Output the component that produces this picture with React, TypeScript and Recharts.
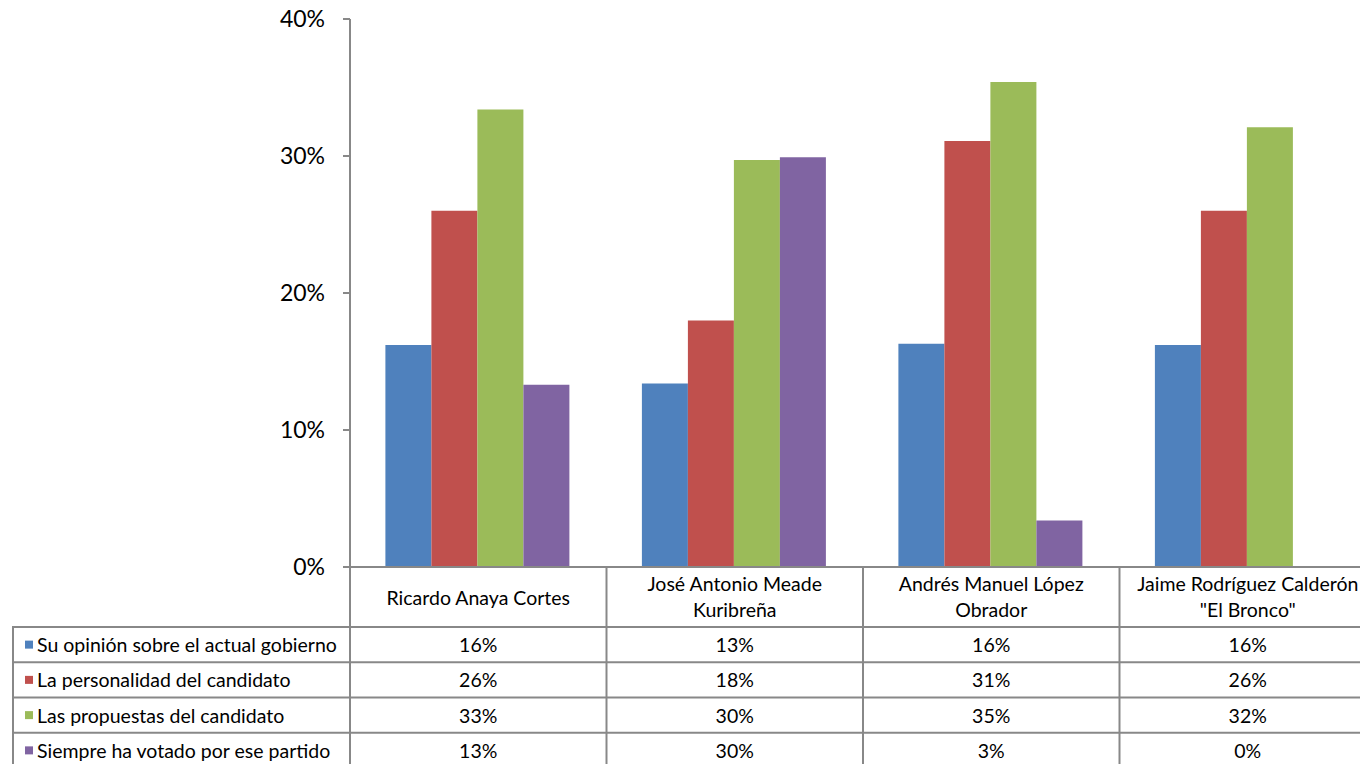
import { BarChart, Bar, XAxis, YAxis } from 'recharts'

const candidates = [
  'Ricardo Anaya Cortes',
  'José Antonio Meade Kuribreña',
  'Andrés Manuel López Obrador',
  'Jaime Rodríguez Calderón "El Bronco"',
]
const candidateLines = [
  ['Ricardo Anaya Cortes'],
  ['José Antonio Meade', 'Kuribreña'],
  ['Andrés Manuel López', 'Obrador'],
  ['Jaime Rodríguez Calderón', '"El Bronco"'],
]
const seriesNames = [
  'Su opinión sobre el actual gobierno',
  'La personalidad del candidato',
  'Las propuestas del candidato',
  'Siempre ha votado por ese partido',
]
const seriesColors = ['#4F81BD', '#C0504D', '#9BBB59', '#8064A2']

const opinion = [16.2, 13.4, 16.3, 16.2]
const personalidad = [26.0, 18.0, 31.1, 26.0]
const propuestas = [33.4, 29.7, 35.4, 32.1]
const partido = [13.3, 29.9, 3.4, 0]
const yTicks = [0, 10, 20, 30, 40]

const seriesValues = [opinion, personalidad, propuestas, partido]
const data = candidates.map((name, i) => ({
  name,
  s0: opinion[i],
  s1: personalidad[i],
  s2: propuestas[i],
  s3: partido[i],
}))

// layout
const FONT = 'Lato, "Open Sans", sans-serif'
const LINE = '#888888'
const AXIS_X = 350
const CHART_W = 1376
const TOP = 19
const PLOT_BOTTOM = 567
const XAXIS_H = 201
const CHART_H = PLOT_BOTTOM + XAXIS_H
const BAND = (CHART_W - AXIS_X) / candidates.length
const LABEL_H = 60
const ROW_H = (XAXIS_H - LABEL_H) / seriesNames.length
const TEXT_SIZE = 19.5

const TableColumn = ({ x, y, payload }: any) => {
  const i = payload.index
  const left = x - BAND / 2
  const right = x + BAND / 2
  const lines = candidateLines[i]
  const last = i === candidates.length - 1
  return (
    <g fontFamily={FONT}>
      <line x1={left} y1={y} x2={left} y2={y + XAXIS_H} stroke={LINE} strokeWidth={2} />
      {last && <line x1={right} y1={y} x2={right} y2={y + XAXIS_H} stroke={LINE} strokeWidth={2} />}
      {seriesNames.map((_, k) => (
        <line
          key={'h' + k}
          x1={left}
          x2={right}
          y1={y + LABEL_H + ROW_H * k}
          y2={y + LABEL_H + ROW_H * k}
          stroke={LINE}
          strokeWidth={2}
        />
      ))}
      <line x1={left} x2={right} y1={y + XAXIS_H} y2={y + XAXIS_H} stroke={LINE} strokeWidth={2} />
      {lines.map((t, k) => (
        <text
          key={'l' + k}
          x={x}
          y={lines.length === 1 ? y + 30 : y + 16 + k * 26}
          textAnchor="middle"
          dominantBaseline="central"
          fontSize={TEXT_SIZE}
          fill="#000"
        >
          {t}
        </text>
      ))}
      {seriesValues.map((vals, k) => (
        <text
          key={'v' + k}
          x={x}
          y={y + LABEL_H + ROW_H * (k + 0.5)}
          textAnchor="middle"
          dominantBaseline="central"
          fontSize={TEXT_SIZE}
          fill="#000"
        >
          {Math.round(vals[i])}%
        </text>
      ))}
    </g>
  )
}

function LegendColumn() {
  const top = PLOT_BOTTOM + LABEL_H
  return (
    <svg
      width={AXIS_X + 2}
      height={CHART_H}
      style={{ position: 'absolute', left: 0, top: 0, fontFamily: FONT }}
    >
      <line x1={13} y1={top} x2={13} y2={CHART_H} stroke={LINE} strokeWidth={2} />
      {seriesNames.map((n, k) => (
        <g key={n}>
          <line x1={12} x2={AXIS_X} y1={top + ROW_H * k} y2={top + ROW_H * k} stroke={LINE} strokeWidth={2} />
          <rect x={25} y={top + ROW_H * (k + 0.5) - 4} width={8} height={8} fill={seriesColors[k]} />
          <text x={37} y={top + ROW_H * (k + 0.5)} dominantBaseline="central" fontSize={TEXT_SIZE} fill="#000">
            {n}
          </text>
        </g>
      ))}
    </svg>
  )
}

export default function App() {
  return (
    <div
      style={{
        position: 'fixed',
        left: 0,
        top: 0,
        width: 1360,
        height: 764,
        overflow: 'hidden',
        background: '#fff',
        fontFamily: FONT,
      }}
    >
      <BarChart
        width={CHART_W}
        height={CHART_H}
        data={data}
        margin={{ top: TOP, right: 0, left: 0, bottom: 0 }}
        barCategoryGap="13.8%"
        barGap={0}
      >
        <YAxis
          width={AXIS_X}
          domain={[0, 40]}
          ticks={yTicks}
          tickFormatter={(v: number) => `${v}%`}
          axisLine={{ stroke: LINE, strokeWidth: 2 }}
          tickLine={{ stroke: LINE, strokeWidth: 2 }}
          tickSize={7}
          tickMargin={18}
          tick={{ fontSize: 23, fill: '#000', fontFamily: FONT }}
          interval={0}
        />
        <XAxis
          dataKey="name"
          height={XAXIS_H}
          axisLine={{ stroke: LINE, strokeWidth: 2 }}
          tickLine={false}
          tickSize={0}
          tickMargin={0}
          interval={0}
          tick={<TableColumn />}
        />
        {seriesNames.map((n, k) => (
          <Bar key={n} dataKey={'s' + k} name={n} fill={seriesColors[k]} isAnimationActive={false} />
        ))}
      </BarChart>
      <LegendColumn />
    </div>
  )
}
